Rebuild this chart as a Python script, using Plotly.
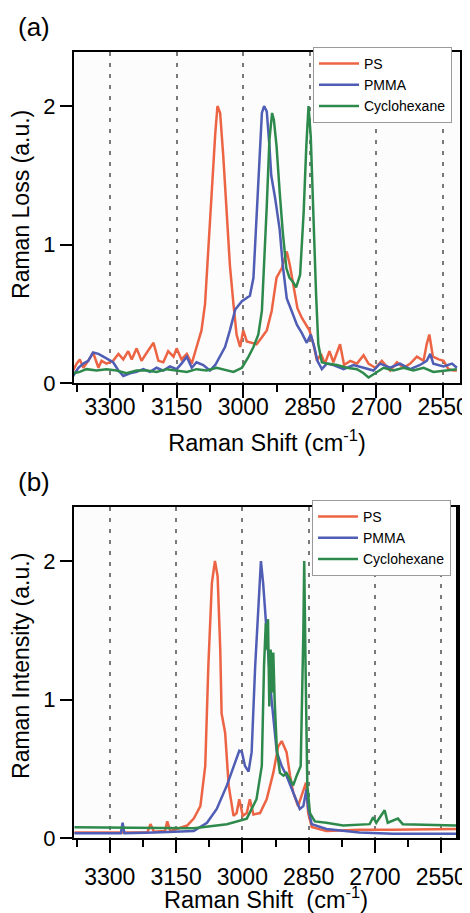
import plotly.graph_objects as go

# ---------------- Panel (a): Raman loss ----------------
a_ps_x = [3383, 3375, 3368, 3360, 3349, 3338, 3326, 3319, 3308, 3293,
          3281, 3270, 3259, 3251, 3240, 3229, 3217, 3202, 3191, 3180,
          3169, 3157, 3150, 3139, 3127, 3116, 3105, 3094, 3086, 3079,
          3071, 3063, 3058, 3052, 3045, 3037, 3030, 3022, 3015, 3007,
          3000, 2992, 2981, 2970, 2958, 2947, 2936, 2925, 2913, 2902,
          2895, 2887, 2878, 2868, 2858, 2851, 2842, 2834, 2825, 2816,
          2806, 2797, 2782, 2773, 2759, 2744, 2729, 2718, 2703, 2688,
          2669, 2654, 2639, 2624, 2609, 2594, 2587, 2581, 2573, 2560,
          2549, 2538, 2527, 2519]
a_ps_y = [0.09, 0.14, 0.17, 0.11, 0.16, 0.22, 0.11, 0.16, 0.14, 0.16,
          0.21, 0.17, 0.23, 0.17, 0.25, 0.16, 0.22, 0.29, 0.16, 0.15,
          0.23, 0.19, 0.25, 0.17, 0.21, 0.14, 0.26, 0.38, 0.57, 0.95,
          1.42, 1.80, 2.00, 1.95, 1.64, 1.23, 0.85, 0.57, 0.35, 0.26,
          0.38, 0.30, 0.29, 0.28, 0.33, 0.38, 0.52, 0.76, 0.83, 0.95,
          0.85, 0.69, 0.54, 0.47, 0.42, 0.38, 0.28, 0.16, 0.21, 0.14,
          0.23, 0.15, 0.28, 0.13, 0.16, 0.14, 0.20, 0.14, 0.11, 0.16,
          0.09, 0.15, 0.11, 0.14, 0.19, 0.16, 0.28, 0.35, 0.19, 0.17,
          0.16, 0.10, 0.09, 0.09]

a_pmma_x = [3383, 3371, 3360, 3349, 3338, 3326, 3315, 3304, 3293, 3281,
            3270, 3255, 3240, 3225, 3210, 3195, 3180, 3165, 3150, 3139,
            3127, 3116, 3105, 3090, 3075, 3063, 3052, 3041, 3030, 3018,
            3003, 2985, 2977, 2970, 2964, 2958, 2953, 2947, 2941, 2937,
            2928, 2918, 2911, 2902, 2891, 2879, 2868, 2857, 2848, 2840,
            2833, 2823, 2812, 2797, 2774, 2752, 2729, 2707, 2692, 2669,
            2647, 2624, 2602, 2587, 2579, 2572, 2549, 2530, 2519]
a_pmma_y = [0.05, 0.11, 0.14, 0.16, 0.22, 0.21, 0.19, 0.17, 0.15, 0.09,
            0.05, 0.07, 0.08, 0.10, 0.08, 0.11, 0.09, 0.12, 0.10, 0.14,
            0.19, 0.11, 0.15, 0.13, 0.09, 0.13, 0.19, 0.26, 0.38, 0.53,
            0.59, 0.63, 0.76, 1.19, 1.59, 1.95, 2.00, 1.96, 1.71, 1.50,
            1.33, 1.11, 0.85, 0.61, 0.52, 0.42, 0.36, 0.29, 0.35, 0.26,
            0.16, 0.10, 0.14, 0.13, 0.10, 0.13, 0.11, 0.09, 0.14, 0.11,
            0.14, 0.10, 0.13, 0.16, 0.21, 0.14, 0.12, 0.14, 0.11]

a_cyc_x = [3383, 3368, 3353, 3330, 3308, 3285, 3263, 3240, 3217, 3195,
           3172, 3150, 3127, 3105, 3082, 3060, 3037, 3022, 3003, 2988,
           2977, 2966, 2958, 2953, 2947, 2941, 2935, 2931, 2925, 2918,
           2911, 2903, 2896, 2888, 2881, 2872, 2864, 2858, 2853, 2848,
           2842, 2836, 2831, 2823, 2812, 2789, 2767, 2744, 2729, 2718,
           2703, 2684, 2662, 2639, 2617, 2594, 2572, 2549, 2519]
a_cyc_y = [0.07, 0.08, 0.10, 0.09, 0.10, 0.09, 0.07, 0.09, 0.09, 0.08,
           0.10, 0.09, 0.08, 0.10, 0.09, 0.11, 0.09, 0.08, 0.11, 0.19,
           0.26, 0.35, 0.52, 0.85, 1.28, 1.76, 1.95, 1.90, 1.71, 1.38,
           1.09, 0.83, 0.76, 0.73, 0.69, 0.78, 1.23, 1.71, 2.00, 1.78,
           1.19, 0.64, 0.28, 0.15, 0.14, 0.13, 0.11, 0.10, 0.07, 0.04,
           0.07, 0.11, 0.09, 0.11, 0.09, 0.11, 0.08, 0.09, 0.10]

# ---------------- Panel (b): Raman intensity ----------------
b_ps_x = [3380, 3300, 3215, 3208, 3200, 3175, 3170, 3163, 3125, 3110,
          3095, 3084, 3077, 3069, 3062, 3056, 3050, 3047, 3039, 3031,
          3020, 3013, 3007, 2999, 2990, 2983, 2975, 2960, 2945, 2930,
          2919, 2911, 2900, 2892, 2885, 2874, 2862, 2856, 2851, 2843,
          2810, 2735, 2660, 2516]
b_ps_y = [0.04, 0.04, 0.04, 0.10, 0.045, 0.05, 0.12, 0.05, 0.09, 0.14,
          0.23, 0.52, 1.24, 1.84, 2.00, 1.89, 1.36, 0.90, 0.76, 0.38,
          0.16, 0.18, 0.28, 0.16, 0.18, 0.28, 0.17, 0.18, 0.28, 0.47,
          0.66, 0.70, 0.62, 0.45, 0.33, 0.23, 0.35, 0.40, 0.18, 0.08,
          0.05, 0.06, 0.06, 0.065]

b_pmma_x = [3380, 3275, 3271, 3267, 3200, 3110, 3080, 3058, 3035, 3020,
            3007, 3001, 2994, 2986, 2979, 2971, 2962, 2958, 2953, 2945,
            2934, 2922, 2911, 2900, 2885, 2870, 2862, 2855, 2851, 2843,
            2810, 2735, 2660, 2516]
b_pmma_y = [0.035, 0.035, 0.11, 0.035, 0.04, 0.05, 0.11, 0.21, 0.38, 0.52,
            0.63, 0.62, 0.52, 0.48, 0.62, 1.24, 1.84, 2.00, 1.84, 1.48,
            1.00, 0.62, 0.52, 0.45, 0.33, 0.21, 0.23, 0.35, 0.21, 0.10,
            0.065, 0.04, 0.03, 0.03]

b_cyc_x = [3380, 3110, 3035, 2990, 2968, 2956, 2951, 2947, 2945, 2942,
           2939, 2936, 2933, 2930, 2927, 2922, 2915, 2907, 2900, 2892,
           2885, 2877, 2868, 2862, 2860, 2857, 2853, 2847, 2836, 2810,
           2772, 2712, 2704, 2697, 2678, 2671, 2648, 2637, 2516]
b_cyc_y = [0.077, 0.07, 0.10, 0.14, 0.28, 0.52, 1.24, 1.55, 1.36, 1.58,
           0.95, 1.36, 1.05, 1.34, 1.00, 0.64, 0.47, 0.45, 0.47, 0.42,
           0.38, 0.45, 0.52, 1.48, 2.00, 1.24, 0.38, 0.18, 0.12, 0.11,
           0.09, 0.10, 0.15, 0.11, 0.20, 0.11, 0.14, 0.10, 0.09]

series_names = ["PS", "PMMA", "Cyclohexane"]
series_colors = ["#EC6444", "#4F5DB5", "#2E8A4C"]
x_tickvals = [3300, 3150, 3000, 2850, 2700, 2550]
y_tickvals = [0, 1, 2]

FONT = "Liberation Sans, Arial, Helvetica, sans-serif"

fig = go.Figure()
top = [(a_ps_x, a_ps_y), (a_pmma_x, a_pmma_y), (a_cyc_x, a_cyc_y)]
bot = [(b_ps_x, b_ps_y), (b_pmma_x, b_pmma_y), (b_cyc_x, b_cyc_y)]
for (xs, ys), name, col in zip(top, series_names, series_colors):
    fig.add_trace(go.Scatter(x=xs, y=ys, mode="lines", name=name,
                             line=dict(color=col, width=2.5),
                             xaxis="x", yaxis="y", legend="legend"))
for (xs, ys), name, col in zip(bot, series_names, series_colors):
    fig.add_trace(go.Scatter(x=xs, y=ys, mode="lines", name=name,
                             line=dict(color=col, width=2.5),
                             xaxis="x2", yaxis="y2", legend="legend2"))


def xaxis(anchor, title, lbl_standoff, title_standoff):
    return dict(
        range=[3381, 2512], tickmode="array", tickvals=x_tickvals,
        ticks="outside", ticklen=13, tickwidth=2, tickcolor="black",
        showline=True, linecolor="black", linewidth=2, mirror=True,
        showgrid=True, gridcolor="#7a7a7a", gridwidth=2, griddash="4px,7px",
        minor=dict(tickmode="linear", tick0=2550, dtick=75, ticks="outside",
                   ticklen=7, tickwidth=2, tickcolor="black", showgrid=False),
        zeroline=False, automargin=False, anchor=anchor,
        tickfont=dict(size=23, color="black", family=FONT),
        ticklabelstandoff=lbl_standoff,
        title=dict(text=title, font=dict(size=23.5, color="black", family=FONT),
                   standoff=title_standoff),
    )


def yaxis(anchor):
    return dict(
        range=[0, 2.39], tickmode="array", tickvals=y_tickvals,
        ticks="outside", ticklen=12, tickwidth=2, tickcolor="black",
        showline=True, linecolor="black", linewidth=2, mirror=True,
        showgrid=False, zeroline=False, automargin=False, anchor=anchor,
        tickfont=dict(size=22, color="black", family=FONT),
    )


legend_style = dict(font=dict(size=14, color="black", family=FONT),
                    bgcolor="white", bordercolor="#9a9a9a", borderwidth=1,
                    xanchor="left", yanchor="top", tracegroupgap=0,
                    itemwidth=40)

label_font = dict(size=26, color="black", family=FONT)
ytitle_font = dict(size=23, color="black", family=FONT)

# The page body adds an 8px margin, so the figure is sized to fill the
# remaining window exactly.
fig.update_layout(
    width=462, height=905, autosize=False,
    margin=dict(l=0, r=0, t=0, b=0),
    paper_bgcolor="white", plot_bgcolor="#fcfcfc",
    font=dict(family=FONT, color="black"),
    xaxis=dict(domain=[0.14286, 0.97835],
               **xaxis("y", "Raman Shift (cm<sup>-1</sup>)", -11, 16)),
    yaxis=dict(domain=[0.58564, 0.95138], **yaxis("x")),
    xaxis2=dict(domain=[0.14286, 0.97403],
                **xaxis("y2", "Raman Shift  (cm<sup>-1</sup>)", 4, 15)),
    yaxis2=dict(domain=[0.08287, 0.44862], **yaxis("x2")),
    legend=dict(x=0.6602, y=0.95691, **legend_style),
    legend2=dict(x=0.6580, y=0.45635, **legend_style),
    showlegend=True,
    shapes=[
        dict(type="line", xref="x2 domain", yref="y2 domain",
             x0=1, x1=1, y0=0, y1=1, line=dict(color="black", width=4)),
    ],
    annotations=[
        dict(text="(a)", x=0.0563, y=0.9790, xref="paper", yref="paper",
             xanchor="center", yanchor="middle", showarrow=False, font=label_font),
        dict(text="(b)", x=0.0563, y=0.4762, xref="paper", yref="paper",
             xanchor="center", yanchor="middle", showarrow=False, font=label_font),
        dict(text="Raman Loss (a.u.)", x=0.028, y=0.7834, xref="paper",
             yref="paper", xanchor="center", yanchor="middle", textangle=-90,
             showarrow=False, font=ytitle_font),
        dict(text="Raman Intensity (a.u.)", x=0.028, y=0.2729, xref="paper",
             yref="paper", xanchor="center", yanchor="middle", textangle=-90,
             showarrow=False, font=ytitle_font),
    ],
)

fig.write_html("out.html")
